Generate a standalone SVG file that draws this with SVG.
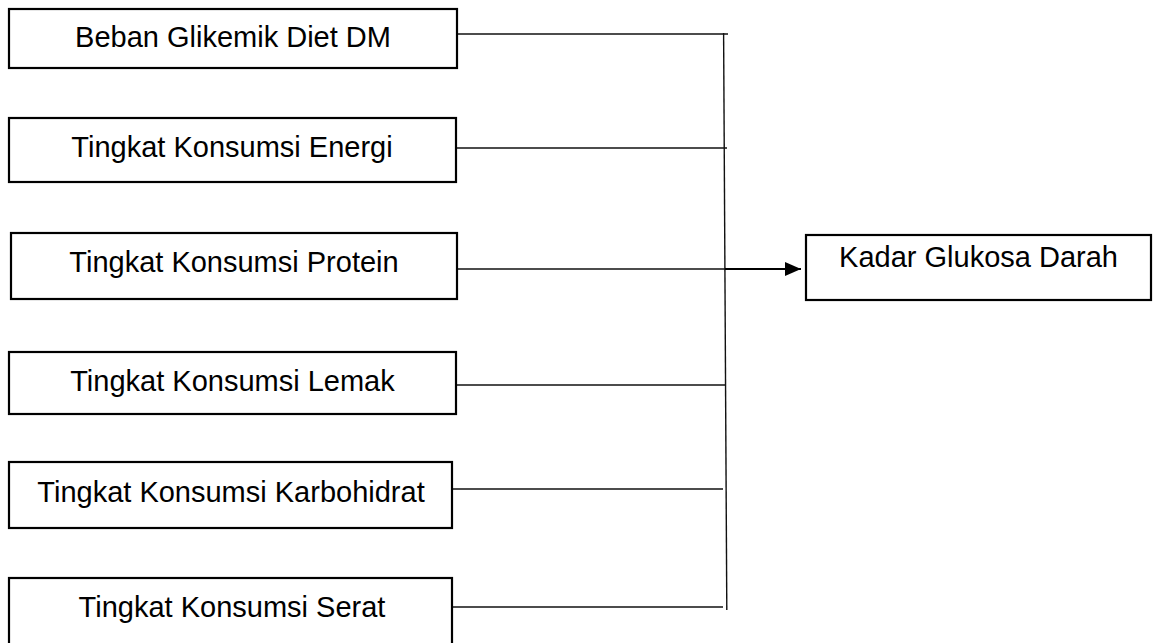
<svg xmlns="http://www.w3.org/2000/svg" width="1153" height="643" viewBox="0 0 1153 643">
<style>
.box{fill:#fff;stroke:#000;stroke-width:2.2}
.lbl{font-family:"Liberation Sans",Arial,sans-serif;font-size:29px;fill:#000;text-anchor:middle}
.conn{stroke:#111;stroke-width:1.4;fill:none}
.arr{stroke:#000;stroke-width:2.2;fill:none}
</style>
<defs>
<marker id="ah" markerWidth="16" markerHeight="14" refX="16" refY="7" orient="auto" markerUnits="userSpaceOnUse">
<path d="M0,0 L16,7 L0,14 Z" fill="#000"/>
</marker>
</defs>
<rect width="1153" height="643" fill="#fff"/>
<g id="connectors">
<line class="conn" x1="458" y1="34" x2="728" y2="34"/>
<line class="conn" x1="457" y1="148" x2="727" y2="148"/>
<line class="conn" x1="457" y1="269" x2="725" y2="269"/>
<line class="conn" x1="456" y1="385" x2="726" y2="385"/>
<line class="conn" x1="452" y1="489" x2="723" y2="489"/>
<line class="conn" x1="452" y1="607" x2="723" y2="607"/>
<line class="conn" x1="723.6" y1="33" x2="726.8" y2="610"/>
<line class="arr" x1="725" y1="269" x2="801" y2="269" marker-end="url(#ah)"/>
</g>
<g id="n1"><rect class="box" x="9" y="9" width="448" height="59"/><text class="lbl" x="233" y="47">Beban Glikemik Diet DM</text></g>
<g id="n2"><rect class="box" x="9" y="118" width="447" height="64"/><text class="lbl" x="232" y="157">Tingkat Konsumsi Energi</text></g>
<g id="n3"><rect class="box" x="11" y="233" width="446" height="66"/><text class="lbl" x="234" y="272">Tingkat Konsumsi Protein</text></g>
<g id="n4"><rect class="box" x="9" y="352" width="447" height="62"/><text class="lbl" x="232.5" y="391">Tingkat Konsumsi Lemak</text></g>
<g id="n5"><rect class="box" x="9" y="462" width="443" height="66"/><text class="lbl" x="231" y="502">Tingkat Konsumsi Karbohidrat</text></g>
<g id="n6"><rect class="box" x="9" y="578" width="443" height="70"/><text class="lbl" x="232" y="617">Tingkat Konsumsi Serat</text></g>
<g id="target"><rect class="box" x="806" y="235" width="345" height="65"/><text class="lbl" x="978.5" y="267">Kadar Glukosa Darah</text></g>
</svg>
